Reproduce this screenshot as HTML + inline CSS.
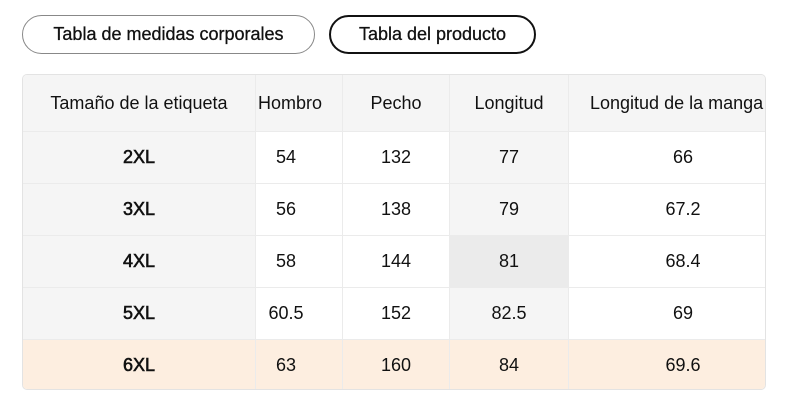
<!DOCTYPE html>
<html><head><style>
body{margin:0;width:786px;height:410px;background:#fff;font-family:"Liberation Sans",Arial,sans-serif;color:#111;position:relative;overflow:hidden}
.btn{position:absolute;top:15px;height:39px;box-sizing:border-box;border-radius:20px;font-size:18px;line-height:37px;text-align:center;-webkit-text-stroke:0.3px #111}
.tbl{position:absolute;left:22px;top:74px;width:744px;height:316px;border:1px solid #e3e3e3;border-radius:5px;box-sizing:border-box;overflow:hidden}
.c{position:absolute;box-sizing:border-box;font-size:18px;display:flex;align-items:center;justify-content:center;border-right:1px solid #ebebeb;border-bottom:1px solid #ebebeb;white-space:nowrap;overflow:hidden}
.t{position:absolute;font-size:18px;white-space:nowrap;transform:translateX(-50%)}
</style></head><body>
<div class="btn" style="left:22px;width:293px;border:1px solid #888">Tabla de medidas corporales</div>
<div class="btn" style="left:329px;width:207px;border:2px solid #111;line-height:35px">Tabla del producto</div>
<div class="tbl" id="t"></div>
<script>
var t=document.getElementById('t');
var X=[0,233,320,427,546,744];
var Y=[0,57,109,161,213,265,316];
var centers=[0,263,373,486,660];
var rows=[["Tamaño de la etiqueta","Hombro","Pecho","Longitud","Longitud de la manga"],
["2XL","54","132","77","66"],["3XL","56","138","79","67.2"],["4XL","58","144","81","68.4"],["5XL","60.5","152","82.5","69"],["6XL","63","160","84","69.6"]];
var h='';
for(var r=0;r<6;r++){for(var c=1;c<5;c++){
 var bg='#fff';
 if(r==0)bg='#f5f5f5';else if(r==5)bg='#fdeee0';else if(c==3)bg=(r==3?'#ebebeb':'#f5f5f5');
 h+='<div class="c" style="left:'+X[c]+'px;top:'+Y[r]+'px;width:'+(X[c+1]-X[c])+'px;height:'+(Y[r+1]-Y[r])+'px;background:'+bg+'"></div>';
 var txt=rows[r][c];
 var st=(c==4&&r==0)?'left:567px;transform:none;':(c==1&&r==0?'left:267px;':'left:'+centers[c]+'px;');
 h+='<div class="t" style="'+st+'top:'+(Y[r]+(Y[r+1]-Y[r])/2-11)+'px">'+txt+'</div>';
}
 var bg0=r==5?'#fdeee0':'#f5f5f5';
 h+='<div class="c" style="left:0;top:'+Y[r]+'px;width:233px;height:'+(Y[r+1]-Y[r])+'px;background:'+bg0+';'+(r>0?'-webkit-text-stroke:0.6px #111;':'')+'z-index:2">'+rows[r][0]+'</div>';
}
t.innerHTML=h;
</script>
</body></html>
